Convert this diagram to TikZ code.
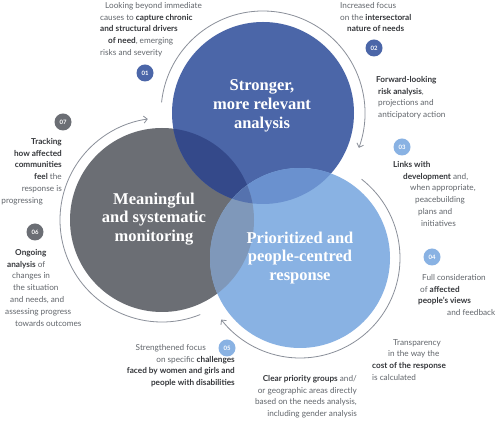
\documentclass[tikz,border=0pt]{standalone}
\usepackage{fontspec}
\setmainfont{Lato}
\newfontfamily\headfont{Liberation Serif}
\usetikzlibrary{arrows.meta}

\definecolor{anac}{HTML}{4B66A8}
\definecolor{monc}{HTML}{6B6E74}
\definecolor{respc}{HTML}{89B2E3}
\definecolor{anamonc}{HTML}{34498A}
\definecolor{anarespc}{HTML}{6A91CF}
\definecolor{monrespc}{HTML}{7F98BA}
\definecolor{allc}{HTML}{5572AE}
\definecolor{arcc}{HTML}{8A8F99}
\definecolor{notec}{HTML}{62666C}
\definecolor{boldc}{HTML}{35373B}

\newcommand{\kw}[1]{{\bfseries\color{boldc}#1}}

\tikzset{
  note/.style={inner sep=0pt, text=notec, font=\fontsize{8.2}{11.8}\selectfont},
  head/.style={inner sep=0pt, text=white, align=center,
    font=\headfont\bfseries\fontsize{16.5}{18.8}\selectfont},
  badge/.style={circle, fill=#1, minimum size=17pt, inner sep=0pt, text=white,
    font=\bfseries\fontsize{6}{6}\selectfont},
  cycle arc/.style={draw=arcc, line width=0.8pt, ->},
}

\begin{document}
\begin{tikzpicture}[x=1pt, y=1pt, >={Straight Barb[length=3.5pt,width=7pt]}]
\fill[white] (0,0) rectangle (500,425);

% circle centres
\coordinate (anacen) at (263,312);
\coordinate (moncen) at (162,205);
\coordinate (respcen) at (300,167);

% the three circles
\fill[monc] (moncen) circle[radius=92pt];
\fill[anac] (anacen) circle[radius=91pt];
\fill[respc] (respcen) circle[radius=90pt];

% overlaps
\begin{scope}
  \clip (anacen) circle[radius=91pt];
  \fill[anamonc] (moncen) circle[radius=92pt];
  \fill[anarespc] (respcen) circle[radius=90pt];
\end{scope}
\begin{scope}
  \clip (moncen) circle[radius=92pt];
  \fill[monrespc] (respcen) circle[radius=90pt];
  \clip (anacen) circle[radius=91pt];
  \fill[allc] (respcen) circle[radius=90pt];
\end{scope}

% circle titles
\node[head] (ana) at (262,319) {Stronger,\\more relevant\\analysis};
\node[head] (mon) at (154,206) {Meaningful\\and systematic\\monitoring};
\node[head] (resp) at (300,167) {Prioritized and\\people-centred\\response};

% cycle arrows
\draw[cycle arc] (anacen) ++(174:102pt) arc[start angle=174, end angle=-20, radius=102pt];
\draw[cycle arc] (moncen) ++(-68:102pt) arc[start angle=-68, end angle=-262, radius=102pt];
\draw[cycle arc] (respcen) ++(52:100pt) arc[start angle=52, end angle=-142, radius=100pt];

% badges
\node[badge=anac] (b1) at (145,352) {01};
\node[badge=anac] (b2) at (374,377) {02};
\node[badge=respc] (b3) at (402,278) {03};
\node[badge=respc] (b4) at (432,168) {04};
\node[badge=respc] (b5) at (227,77) {05};
\node[badge=monc] (b6) at (35,193) {06};
\node[badge=monc] (b7) at (63,303) {07};

% notes
\node[note, anchor=north west, align=left] (n1) at (100,423)
  {\hspace*{5pt}Looking beyond immediate\\causes to \kw{capture chronic}\\\kw{and structural drivers}\\\hspace*{8pt}\kw{of need}, emerging\\risks and severity};
\node[note, anchor=north west, align=left] (n2) at (340,423)
  {Increased focus\\on the \kw{intersectoral}\\\hspace*{7pt}\kw{nature of needs}};
\node[note, anchor=north west, align=left] (n2b) at (376,349)
  {\kw{Forward-looking}\\\hspace*{2pt}\kw{risk analysis},\\\hspace*{2pt}projections and\\\hspace*{2pt}anticipatory action};
\node[note, anchor=north west, align=left] (n3) at (393,264)
  {\kw{Links with}\\\hspace*{10pt}\kw{development} and,\\\hspace*{17pt}when appropriate,\\\hspace*{22pt}peacebuilding\\\hspace*{25pt}plans and\\\hspace*{28pt}initiatives};
\node[note, anchor=north west, align=left] (n4) at (418,151)
  {\hspace*{4pt}Full consideration\\\hspace*{2pt}of \kw{affected}\\\kw{people's views}\\\hspace*{29pt}and feedback};
\node[note, anchor=north west, align=left] (n4b) at (372,86)
  {\hspace*{21pt}Transparency\\\hspace*{16pt}in the way the\\\kw{cost of the response}\\is calculated};
\node[note, anchor=north east, align=right] (n5) at (235,81)
  {Strengthened focus\hspace*{29pt}\\on specific \kw{challenges}\hspace*{23pt}\\\kw{faced by women and girls and}\hspace*{3pt}\\\kw{people with disabilities}};
\node[note, anchor=north east, align=right] (n5b) at (357,50)
  {\kw{Clear priority groups} and/\\or geographic areas directly\\based on the needs analysis,\\including gender analysis};
\node[note, anchor=north west, align=left] (n6) at (5,176)
  {\hspace*{10pt}\kw{Ongoing}\\\hspace*{2pt}\kw{analysis} of\\\hspace*{7pt}changes in\\\hspace*{8pt}the situation\\\hspace*{5pt}and needs, and\\assessing progress\\\hspace*{10pt}towards outcomes};
\node[note, anchor=north east, align=right] (n7) at (62,287)
  {\kw{Tracking}\\\kw{how affected}\hspace*{2pt}\\\kw{communities}\hspace*{7pt}\\\kw{feel} the\hspace*{7pt}\\response is\hspace*{19pt}\\progressing\hspace*{19pt}};
\end{tikzpicture}
\end{document}
